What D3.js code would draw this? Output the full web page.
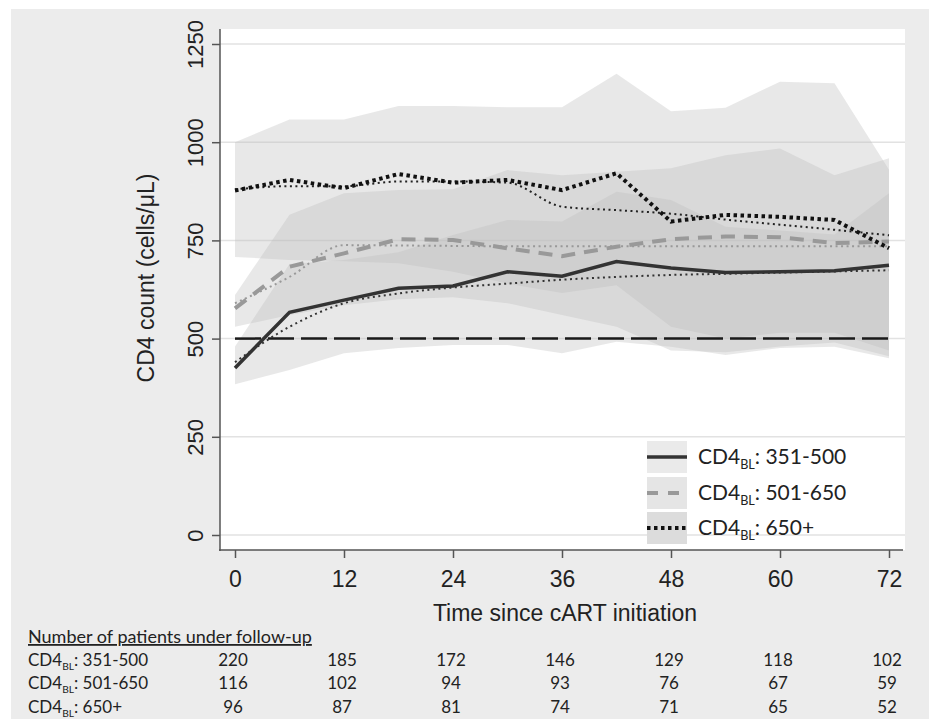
<!DOCTYPE html>
<html>
<head>
<meta charset="utf-8">
<title>CD4 count since cART initiation</title>
<script src="https://d3js.org/d3.v7.min.js"></script>
<style>
  body { margin: 0; background: #fff; }
  svg text { font-family: "Liberation Sans", Arial, sans-serif; fill: #222; }
  svg text.cal { font-family: Lato, "Open Sans", sans-serif; }
</style>
</head>
<body>
<script>
// months since cART start (data points every 6 months)
var months = [0, 6, 12, 18, 24, 30, 36, 42, 48, 54, 60, 66, 72];

// observed median CD4 per baseline group
var obs351 = [425, 567, 598, 628, 634, 670, 659, 696, 680, 668, 670, 673, 687];
var obs501 = [577, 683, 717, 753, 751, 730, 710, 734, 753, 760, 758, 743, 747];
var obs650 = [877, 904, 883, 919, 897, 904, 878, 921, 798, 815, 810, 802, 730];

// fitted (model) curves
var fit351 = [440, 530, 590, 615, 630, 640, 650, 657, 662, 665, 668, 671, 674];
var fit501 = [590, 657, 738, 737, 736, 735, 735, 735, 735, 735, 735, 735, 735];
var fit650 = [880, 888, 888, 900, 900, 897, 836, 827, 818, 803, 790, 777, 763];

// shaded ranges
var lo351 = [384, 420, 463, 476, 484, 484, 463, 492, 479, 458, 476, 479, 450];
var hi351 = [480, 690, 700, 720, 764, 802, 798, 874, 853, 785, 775, 765, 870];
var lo501 = [530, 560, 585, 600, 605, 590, 560, 530, 470, 465, 480, 490, 455];
var hi501 = [611, 815, 870, 878, 880, 929, 916, 925, 934, 967, 984, 916, 959];
var lo650 = [708, 700, 697, 692, 670, 640, 616, 636, 530, 500, 515, 515, 470];
var hi650 = [1000, 1058, 1058, 1092, 1092, 1089, 1089, 1174, 1079, 1088, 1154, 1150, 930];

var threshold = 500;
var xTicks = [0, 12, 24, 36, 48, 60, 72];
var yTicks = [0, 250, 500, 750, 1000, 1250];
var groupNames = ["351-500", "501-650", "650+"];

// patients under follow-up at each x tick
var n351 = [220, 185, 172, 146, 129, 118, 102];
var n501 = [116, 102, 94, 93, 76, 67, 59];
var n650 = [96, 87, 81, 74, 71, 65, 52];

var W = 929, H = 719;
var svg = d3.select("body").append("svg")
    .attr("width", W)
    .attr("height", H);

// grey page + white plot region
svg.append("rect").attr("x", 11).attr("y", 9).attr("width", W - 11).attr("height", H - 9).attr("fill", "#ececec");
svg.append("rect").attr("x", 220).attr("y", 29).attr("width", 685).attr("height", 521).attr("fill", "#fff");

var x = d3.scaleLinear().domain([0, 72]).range([235, 889]);
var y = d3.scaleLinear().domain([0, 1250]).range([535, 44]);

// grid
svg.append("g").selectAll("line").data(yTicks).join("line")
    .attr("x1", 220).attr("x2", 905)
    .attr("y1", d => y(d)).attr("y2", d => y(d))
    .attr("stroke", "#e2e2e2").attr("stroke-width", 1.5);

// bands
function band(lo, hi) {
    return d3.area()
        .x((d, i) => x(months[i]))
        .y0((d, i) => y(lo[i]))
        .y1((d, i) => y(hi[i]))(months);
}
[[lo650, hi650], [lo501, hi501], [lo351, hi351]].forEach(function(b) {
    svg.append("path").attr("d", band(b[0], b[1]))
        .attr("fill", "#bdbdbd").attr("fill-opacity", 0.35);
});

// 500 reference
svg.append("line")
    .attr("x1", x(0)).attr("x2", x(72))
    .attr("y1", y(threshold)).attr("y2", y(threshold))
    .attr("stroke", "#1a1a1a").attr("stroke-width", 2.5)
    .attr("stroke-dasharray", "26,7");

var smooth = d3.line().x((d, i) => x(months[i])).y(d => y(d)).curve(d3.curveMonotoneX);
var straight = d3.line().x((d, i) => x(months[i])).y(d => y(d));

// fitted curves (thin dotted)
[[fit351, "#333"], [fit501, "#999"], [fit650, "#222"]].forEach(function(f) {
    svg.append("path").attr("d", smooth(f[0]))
        .attr("fill", "none").attr("stroke", f[1])
        .attr("stroke-width", 2).attr("stroke-dasharray", "2,3.5");
});

// observed
var styles = [
    {data: obs351, color: "#333", width: 3.5, dash: null},
    {data: obs501, color: "#999", width: 4, dash: "14,9"},
    {data: obs650, color: "#111", width: 4, dash: "3.5,3.5"}
];
styles.forEach(function(s) {
    svg.append("path").attr("d", straight(s.data))
        .attr("fill", "none").attr("stroke", s.color)
        .attr("stroke-width", s.width)
        .attr("stroke-dasharray", s.dash);
});

// axes
var yAxis = svg.append("g").attr("transform", "translate(220,0)")
    .call(d3.axisLeft(y).tickValues(yTicks).tickFormat(d3.format("d")).tickSize(8).tickSizeOuter(0));
yAxis.select(".domain").remove();
yAxis.selectAll("line").attr("stroke", "#555").attr("stroke-width", 1.5);
yAxis.selectAll("text")
    .attr("transform", "rotate(-90)")
    .attr("x", 0).attr("y", -17).attr("dy", 0)
    .attr("text-anchor", "middle")
    .style("font-size", "22px");

var xAxis = svg.append("g").attr("transform", "translate(0,550)")
    .call(d3.axisBottom(x).tickValues(xTicks).tickSize(8).tickSizeOuter(0));
xAxis.select(".domain").remove();
xAxis.selectAll("line").attr("stroke", "#555").attr("stroke-width", 1.5);
xAxis.selectAll("text").attr("y", 37).attr("dy", 0).style("font-size", "23px");

svg.append("line").attr("x1", 220).attr("x2", 220).attr("y1", 29).attr("y2", 551)
    .attr("stroke", "#555").attr("stroke-width", 1.5);
svg.append("line").attr("x1", 219).attr("x2", 903).attr("y1", 550).attr("y2", 550)
    .attr("stroke", "#555").attr("stroke-width", 1.5);

svg.append("text")
    .attr("transform", "translate(154,278) rotate(-90)")
    .attr("text-anchor", "middle")
    .style("font-size", "23px")
    .text("CD4 count (cells/μL)");

svg.append("text")
    .attr("x", 565).attr("y", 621)
    .attr("text-anchor", "middle")
    .style("font-size", "23px")
    .text("Time since cART initiation");

// label with subscript BL
function cd4Label(sel, name, size) {
    sel.append("tspan").text("CD4");
    sel.append("tspan").text("BL").style("font-size", (size * 0.6) + "px").attr("dy", size * 0.22);
    sel.append("tspan").text(": " + name).attr("dy", -size * 0.22);
}

// legend
var legY = [457, 493, 528];
var swatch = ["#eaeaea", "#e5e5e5", "#dcdcdc"];
styles.forEach(function(s, i) {
    svg.append("rect").attr("x", 647).attr("y", legY[i] - 16).attr("width", 40).attr("height", 32)
        .attr("fill", swatch[i]);
    svg.append("line").attr("x1", 647).attr("x2", 687).attr("y1", legY[i]).attr("y2", legY[i])
        .attr("stroke", s.color).attr("stroke-width", s.width)
        .attr("stroke-dasharray", i == 1 ? "11,10" : s.dash);
    var t = svg.append("text").attr("class", "cal")
        .attr("x", 698).attr("y", legY[i] + 7)
        .style("font-size", "21px");
    cd4Label(t, groupNames[i], 21);
});

// table of patients under follow-up
svg.append("text").attr("class", "cal")
    .attr("x", 28).attr("y", 643)
    .style("font-size", "18px")
    .style("text-decoration", "underline")
    .text("Number of patients under follow-up");

var rowsN = [n351, n501, n650];
var rowY = [666, 689, 713];
rowsN.forEach(function(r, i) {
    var t = svg.append("text").attr("class", "cal")
        .attr("x", 28).attr("y", rowY[i])
        .style("font-size", "17px");
    cd4Label(t, groupNames[i], 17);
    svg.append("g").selectAll("text").data(r).join("text")
        .attr("class", "cal")
        .attr("x", (d, j) => x(xTicks[j]) - 2)
        .attr("y", rowY[i])
        .attr("text-anchor", "middle")
        .style("font-size", "17px")
        .text(d => d);
});
</script>
</body>
</html>
